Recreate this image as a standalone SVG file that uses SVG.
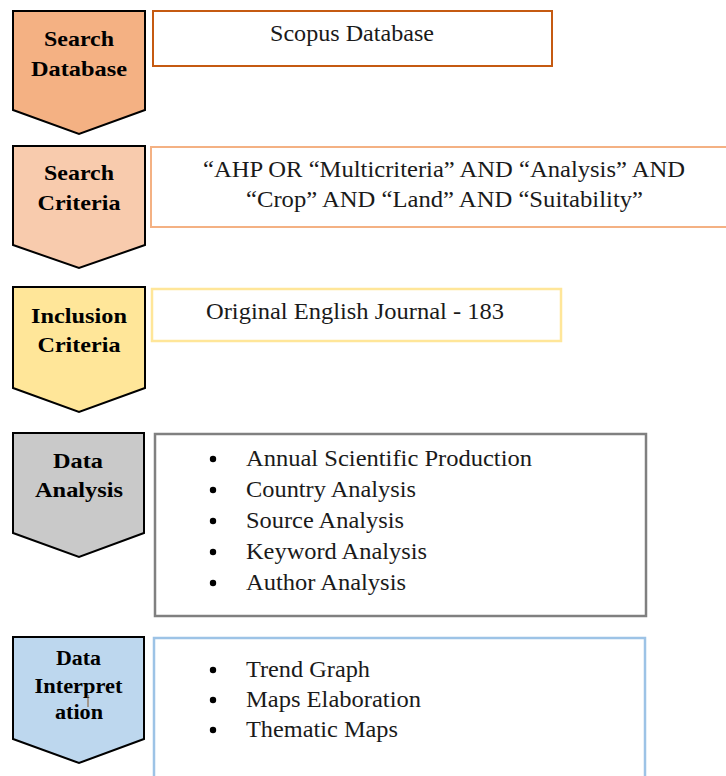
<svg xmlns="http://www.w3.org/2000/svg" width="726" height="776" viewBox="0 0 726 776">
<style>
.bg{fill:#ffffff}
.chev{stroke:#000000;stroke-width:2;stroke-linejoin:miter}
.lbl{font-family:"Liberation Serif","Times New Roman",serif;font-weight:bold;font-size:22px;fill:#000000;text-anchor:middle}
.lbl5{font-family:"Liberation Serif","Times New Roman",serif;font-weight:bold;font-size:20px;fill:#000000;text-anchor:middle}
.box{fill:#ffffff}
.txt{font-family:"Liberation Serif","Times New Roman",serif;font-size:23px;fill:#1a1a1a}
.ctr{text-anchor:middle}
.dot{fill:#000000}
</style>
<rect class="bg" x="0" y="0" width="726" height="776"/>
<g id="connectors"/>

<g id="search-database">
  <polygon class="chev" fill="#F4B183" points="13,11 145,11 145,110 79,134 13,110"/>
  <text class="lbl" x="79" y="46" textLength="70" lengthAdjust="spacingAndGlyphs">Search</text>
  <text class="lbl" x="79" y="76" textLength="96" lengthAdjust="spacingAndGlyphs">Database</text>
</g>
<g id="scopus-box">
  <rect class="box" x="153" y="11" width="399" height="55" stroke="#C55A11" stroke-width="2"/>
  <text class="txt ctr" x="352" y="41" textLength="164" lengthAdjust="spacingAndGlyphs">Scopus Database</text>
</g>

<g id="search-criteria">
  <polygon class="chev" fill="#F8CBAD" points="13,146 145,146 145,245 79,268 13,245"/>
  <text class="lbl" x="79" y="180" textLength="70" lengthAdjust="spacingAndGlyphs">Search</text>
  <text class="lbl" x="79" y="210" textLength="83" lengthAdjust="spacingAndGlyphs">Criteria</text>
</g>
<g id="criteria-box">
  <rect class="box" x="151" y="147" width="600" height="80" stroke="#F4B183" stroke-width="2"/>
  <text class="txt ctr" x="444" y="177" textLength="482" lengthAdjust="spacingAndGlyphs">“AHP OR “Multicriteria” AND “Analysis” AND</text>
  <text class="txt ctr" x="444.5" y="207" textLength="397" lengthAdjust="spacingAndGlyphs">“Crop” AND “Land” AND “Suitability”</text>
</g>

<g id="inclusion-criteria">
  <polygon class="chev" fill="#FFE699" points="13,287 145,287 145,388 79,412 13,388"/>
  <text class="lbl" x="79" y="323" textLength="96" lengthAdjust="spacingAndGlyphs">Inclusion</text>
  <text class="lbl" x="79" y="352" textLength="83" lengthAdjust="spacingAndGlyphs">Criteria</text>
</g>
<g id="inclusion-box">
  <rect class="box" x="152" y="289" width="409" height="52" stroke="#FFE699" stroke-width="2.5"/>
  <text class="txt ctr" x="355" y="319" textLength="298" lengthAdjust="spacingAndGlyphs">Original English Journal - 183</text>
</g>

<g id="data-analysis">
  <polygon class="chev" fill="#C9C9C9" points="13,433 144,433 144,533 79,557 13,533"/>
  <text class="lbl" x="78" y="468" textLength="50" lengthAdjust="spacingAndGlyphs">Data</text>
  <text class="lbl" x="79" y="497" textLength="88" lengthAdjust="spacingAndGlyphs">Analysis</text>
</g>
<g id="analysis-box">
  <rect class="box" x="155" y="434" width="491" height="182" stroke="#808080" stroke-width="2.5"/>
  <circle class="dot" cx="213" cy="459" r="3.2"/>
  <circle class="dot" cx="213" cy="490" r="3.2"/>
  <circle class="dot" cx="213" cy="521" r="3.2"/>
  <circle class="dot" cx="213" cy="552" r="3.2"/>
  <circle class="dot" cx="213" cy="583" r="3.2"/>
  <text class="txt" x="246" y="466" textLength="286" lengthAdjust="spacingAndGlyphs">Annual Scientific Production</text>
  <text class="txt" x="246" y="497" textLength="170" lengthAdjust="spacingAndGlyphs">Country Analysis</text>
  <text class="txt" x="246" y="528" textLength="158" lengthAdjust="spacingAndGlyphs">Source Analysis</text>
  <text class="txt" x="246" y="559" textLength="181" lengthAdjust="spacingAndGlyphs">Keyword Analysis</text>
  <text class="txt" x="246" y="590" textLength="160" lengthAdjust="spacingAndGlyphs">Author Analysis</text>
</g>

<g id="data-interpretation">
  <polygon class="chev" fill="#BDD7EE" points="13,637 144,637 144,739 79,763 13,739"/>
  <text class="lbl5" x="78.5" y="665" textLength="45" lengthAdjust="spacingAndGlyphs">Data</text>
  <text class="lbl5" x="78.5" y="693" textLength="88" lengthAdjust="spacingAndGlyphs">Interpret</text>
  <text class="lbl5" x="79" y="719" textLength="48" lengthAdjust="spacingAndGlyphs">ation</text>
  <line x1="88" y1="695" x2="88" y2="707" stroke="#8B5A2B" stroke-width="1"/>
</g>
<g id="interpretation-box">
  <rect class="box" x="154" y="638" width="491" height="160" stroke="#9DC3E6" stroke-width="2.5"/>
  <circle class="dot" cx="213" cy="670" r="3.2"/>
  <circle class="dot" cx="213" cy="700" r="3.2"/>
  <circle class="dot" cx="213" cy="730" r="3.2"/>
  <text class="txt" x="246" y="677" textLength="124" lengthAdjust="spacingAndGlyphs">Trend Graph</text>
  <text class="txt" x="246" y="707" textLength="175" lengthAdjust="spacingAndGlyphs">Maps Elaboration</text>
  <text class="txt" x="246" y="737" textLength="152" lengthAdjust="spacingAndGlyphs">Thematic Maps</text>
</g>
</svg>
